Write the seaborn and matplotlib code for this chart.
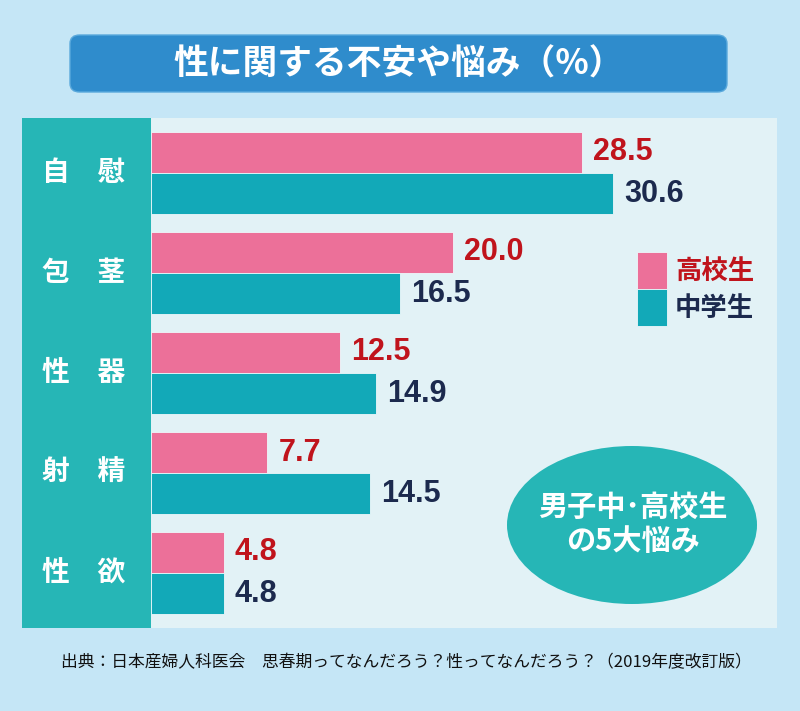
import numpy as np
import pandas as pd
import matplotlib.pyplot as plt
import seaborn as sns
from matplotlib.patches import Rectangle, Ellipse, FancyBboxPatch
from matplotlib import transforms

# data (%)
categories = ['自　慰', '包　茎', '性　器', '射　精', '性　欲']
groups = ['高校生', '中学生']
high_school = [28.5, 20.0, 12.5, 7.7, 4.8]
junior_high = [30.6, 16.5, 14.9, 14.5, 4.8]

title = '性に関する不安や悩み（%）'
badge = '男子中･高校生\nの5大悩み'
source = '出典：日本産婦人科医会　思春期ってなんだろう？性ってなんだろう？（2019年度改訂版）'

BG = '#c5e6f6'
PANEL = '#e2f2f6'
SIDE = '#26b6b6'
PINK = '#ec7099'
TEAL = '#12a9b8'
RED = '#c0141c'
NAVY = '#1c2a4e'
TITLE_BOX = '#2f8ccc'

sns.set_theme(style='white')
plt.rcParams['font.family'] = ['Noto Sans CJK JP', 'DejaVu Sans']

df = pd.DataFrame({
    'category': categories * 2,
    'group': [groups[0]] * len(categories) + [groups[1]] * len(categories),
    'value': high_school + junior_high,
})

W, H = 800, 711
fig = plt.figure(figsize=(W / 100, H / 100), dpi=100, facecolor=BG)

# helper: pixel box (top-left origin) -> figure fraction
def fbox(x0, y0, x1, y1):
    return [x0 / W, (H - y1) / H, (x1 - x0) / W, (y1 - y0) / H]

ax = fig.add_axes(fbox(151, 118, 777, 628))
ax.set_facecolor(PANEL)

sns.barplot(data=df, y='category', x='value', hue='group', orient='h',
            palette=[PINK, TEAL], saturation=1, width=0.82, legend=False,
            edgecolor='#eef8fb', linewidth=0.6, ax=ax)

ax.set_xlim(0, 41.43)
ax.set_ylim(4.55, -0.55)
ax.set_xlabel('')
ax.set_ylabel('')
ax.set_xticks([])
ax.set_yticks([])
for s in ax.spines.values():
    s.set_visible(False)

for cont, col in zip(ax.containers, [RED, NAVY]):
    ax.bar_label(cont, fmt='%.1f', padding=8, color=col, fontsize=22,
                 fontweight='bold', family=['Liberation Sans', 'DejaVu Sans'])

# left category panel
side = Rectangle((22 / W, (H - 628) / H), 129 / W, 510 / H, transform=fig.transFigure,
                 facecolor=SIDE, edgecolor='none', zorder=0)
fig.add_artist(side)
trans = transforms.blended_transform_factory(fig.transFigure, ax.transData)
for i, cat in enumerate(categories):
    ax.text(84 / W, i, cat, transform=trans, ha='center', va='center',
            color='white', fontsize=20, fontweight='bold', clip_on=False)

# title box
tb = FancyBboxPatch((70 / W, (H - 92) / H), 657 / W, 57 / H,
                    boxstyle='round,pad=0,rounding_size=0.012',
                    transform=fig.transFigure, facecolor=TITLE_BOX,
                    edgecolor='#5aa9dc', linewidth=1)
fig.add_artist(tb)
fig.text(399 / W, 1 - 64 / H, title, ha='center', va='center', color='white',
         fontsize=25, fontweight='bold')

# legend
for j, (lab, fc, tc) in enumerate(zip(groups, [PINK, TEAL], [RED, NAVY])):
    y0 = 252 + j * 37
    fig.add_artist(Rectangle((637 / W, (H - y0 - 37) / H), 30 / W, 37 / H,
                             transform=fig.transFigure, facecolor=fc,
                             edgecolor='#eef8fb', linewidth=0.6))
    fig.text(675 / W, 1 - (y0 + 19) / H, lab, ha='left', va='center', color=tc,
             fontsize=19, fontweight='bold')

# badge
fig.add_artist(Ellipse((632 / W, 1 - 525 / H), 250 / W, 158 / H,
                       transform=fig.transFigure, facecolor=SIDE, edgecolor='none'))
fig.text(633 / W, 1 - 524 / H, badge, ha='center', va='center', color='white',
         fontsize=21, fontweight='bold', linespacing=1.2)

# source
fig.text(406 / W, 1 - 663 / H, source, ha='center', va='center', color='#111111',
         fontsize=12.1)

fig.savefig('out.png', dpi=100, facecolor=BG)
